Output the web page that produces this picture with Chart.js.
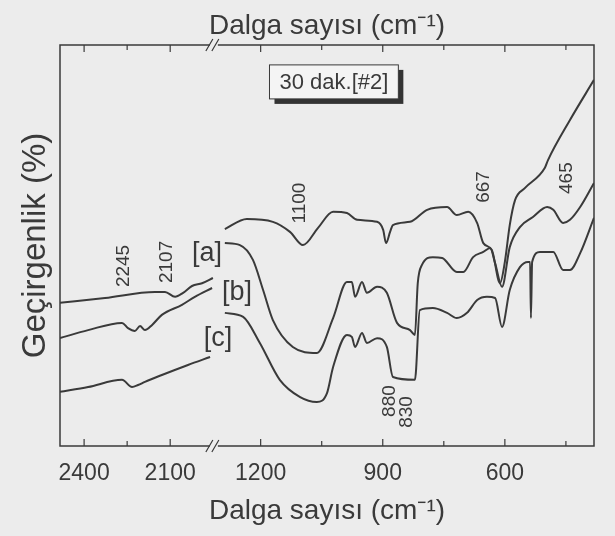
<!DOCTYPE html>
<html>
<head>
<meta charset="utf-8">
<script src="https://cdn.jsdelivr.net/npm/chart.js@4.4.1/dist/chart.umd.min.js"></script>
<style>
  html, body { margin: 0; padding: 0; background: #ececec; }
  #wrap { width: 615px; height: 536px; }
</style>
</head>
<body>
<div id="wrap"><canvas id="ir-chart" width="615" height="536"></canvas></div>
<script>
// wavenumber (cm-1) / transmittance readings, left piece and right piece of the broken axis
const waveLeftA = [2484, 2327, 2153, 2118, 2083, 2055, 2024, 1989, 1951];
const transLeftA = [35.7, 36.9, 38.4, 38.4, 37.2, 38.2, 39.9, 40.6, 41.9];
const waveRightA = [1288, 1234, 1170, 1128, 1096, 1059, 1022, 988, 963, 914, 899, 892, 882, 875, 833, 791, 742, 718, 690, 668, 653, 632, 612, 600, 588, 575, 551, 502, 494, 440, 381];
const transRightA = [54.1, 56.6, 55.9, 53.4, 50.1, 54.4, 58.4, 58.1, 56.4, 55.9, 53.9, 50.6, 53.4, 55.1, 55.9, 58.9, 59.6, 57.6, 58.4, 55.6, 50.6, 48.9, 40.6, 45.9, 55.1, 61.3, 64.3, 69.3, 71.3, 81.3, 91.3];

const waveLeftB = [2484, 2386, 2268, 2247, 2223, 2205, 2188, 2163, 2129, 2059, 2014, 1954];
const transLeftB = [26.9, 28.9, 30.7, 29.4, 28.7, 29.9, 28.9, 30.2, 32.7, 35.2, 37.2, 39.4];
const waveRightB = [1288, 1251, 1219, 1194, 1170, 1121, 1062, 1022, 988, 976, 968, 951, 939, 914, 890, 865, 833, 821, 814, 804, 777, 754, 718, 702, 678, 653, 636, 624, 607, 588, 563, 531, 496, 481, 457, 440, 415, 381];
const transRightB = [50.6, 50.1, 46.4, 38.9, 31.4, 24.7, 23.2, 31.9, 40.9, 40.9, 37.2, 40.9, 38.2, 39.7, 38.2, 30.7, 28.9, 27.7, 40.6, 45.1, 47.1, 46.9, 43.4, 43.4, 47.1, 48.4, 49.4, 45.6, 39.7, 49.6, 54.6, 57.1, 59.6, 58.9, 55.6, 56.4, 59.6, 65.6];

const waveLeftC = [2484, 2386, 2268, 2233, 2212, 2188, 2129, 2038, 1961];
const transLeftC = [13.5, 14.7, 16.5, 14.7, 15.2, 16.0, 17.7, 20.2, 22.2];
const waveRightC = [1288, 1243, 1202, 1153, 1103, 1062, 1037, 1022, 988, 976, 968, 951, 939, 914, 890, 875, 821, 809, 777, 742, 718, 693, 668, 644, 624, 607, 588, 563, 543, 538, 536, 533, 514, 481, 457, 440, 415, 381];
const transRightC = [33.2, 32.2, 25.7, 16.5, 12.2, 11.0, 13.2, 19.7, 27.7, 27.2, 24.7, 28.2, 25.7, 26.9, 24.7, 17.2, 16.5, 33.9, 34.4, 33.2, 31.9, 33.2, 36.4, 37.2, 36.9, 29.7, 38.9, 44.6, 45.9, 45.9, 31.9, 45.9, 48.4, 48.4, 43.9, 43.9, 48.1, 56.9];

const tickWn = [2400, 2250, 2100, 1200, 1050, 900, 750, 600, 450];
const tickLabels = ['2400', '', '2100', '1200', '', '900', '', '600', ''];

const peakLabels = ['2245', '2107', '1100', '667', '465', '880', '830'];
const peakWn = [2261, 2111, 1103, 653, 447, 882, 841];
const peakT = [44.9, 45.9, 60.6, 64.6, 66.8, 11.2, 8.5];

const sampleTags = ['[a]', '[b]', '[c]'];
const tagWn = [1972, 1258, 1305];
const tagT = [47.9, 38.2, 26.7];

const boxText = '30 dak.[#2]';
const boxWn = 1020, boxT = 90.8;

// broken axis: left piece 2484..1950 is squeezed, right piece 1313..381
const LEFT_START = 2484, LEFT_SCALE = 0.705, RIGHT_START = 1313, RIGHT_OFFSET = 380, BREAK_POS = 378;
function toAxis(wn) {
    return wn > 1600 ? (LEFT_START - wn) * LEFT_SCALE : RIGHT_OFFSET + (RIGHT_START - wn);
}
const AXIS_MAX = toAxis(381);

const INK = '#3a3a3a';
const BG = '#ececec';
const NARROW = "'Liberation Sans Narrow', 'Liberation Sans', Arial, sans-serif";

function points(wL, tL, wR, tR) {
    const left = wL.map((w, i) => ({x: toAxis(w), y: tL[i]}));
    const right = wR.map((w, i) => ({x: toAxis(w), y: tR[i]}));
    return left.concat([{x: BREAK_POS, y: null}], right);
}

function curve(label, data) {
    return {
        label: label,
        data: data,
        borderColor: INK,
        borderWidth: 2,
        pointRadius: 0,
        fill: false,
        spanGaps: false,
        cubicInterpolationMode: 'monotone'
    };
}

const decor = {
    id: 'decor',
    afterDatasetsDraw(chart) {
        const {ctx, chartArea: a, scales: {x, y}} = chart;
        ctx.save();
        ctx.strokeStyle = INK;
        ctx.lineWidth = 1.5;
        ctx.strokeRect(a.left, a.top, a.right - a.left, a.bottom - a.top);

        // inward tick marks, top and bottom
        ctx.lineWidth = 1.2;
        tickWn.forEach((w, i) => {
            const px = x.getPixelForValue(toAxis(w));
            const len = tickLabels[i] ? 7 : 5;
            ctx.beginPath();
            ctx.moveTo(px, a.bottom); ctx.lineTo(px, a.bottom - len);
            ctx.moveTo(px, a.top); ctx.lineTo(px, a.top + len);
            ctx.stroke();
        });

        // axis break marks
        const bx = x.getPixelForValue(BREAK_POS);
        [a.top, a.bottom].forEach(yy => {
            ctx.fillStyle = BG;
            ctx.fillRect(bx - 4, yy - 3, 8, 6);
            ctx.beginPath();
            ctx.moveTo(bx - 8, yy + 6); ctx.lineTo(bx - 1, yy - 6);
            ctx.moveTo(bx - 2, yy + 6); ctx.lineTo(bx + 5, yy - 6);
            ctx.stroke();
        });

        // peak labels, written upward
        ctx.fillStyle = INK;
        ctx.textAlign = 'center';
        ctx.textBaseline = 'middle';
        ctx.font = '19px ' + NARROW;
        peakLabels.forEach((t, i) => {
            ctx.save();
            ctx.translate(x.getPixelForValue(toAxis(peakWn[i])), y.getPixelForValue(peakT[i]));
            ctx.rotate(-Math.PI / 2);
            ctx.fillText(t, 0, 0);
            ctx.restore();
        });

        // sample tags
        ctx.font = '27px ' + NARROW;
        sampleTags.forEach((t, i) => {
            ctx.fillText(t, x.getPixelForValue(toAxis(tagWn[i])), y.getPixelForValue(tagT[i]));
        });

        // boxed caption with shadow
        ctx.font = '22px ' + NARROW;
        const cx = x.getPixelForValue(toAxis(boxWn));
        const cy = y.getPixelForValue(boxT);
        const w = ctx.measureText(boxText).width + 20;
        const h = 34;
        ctx.fillStyle = '#333';
        ctx.fillRect(cx - w / 2 + 5, cy - h / 2 + 5, w, h);
        ctx.fillStyle = '#f4f4f4';
        ctx.fillRect(cx - w / 2, cy - h / 2, w, h);
        ctx.lineWidth = 1;
        ctx.strokeRect(cx - w / 2, cy - h / 2, w, h);
        ctx.fillStyle = INK;
        ctx.fillText(boxText, cx, cy + 1);
        ctx.restore();
    }
};

const titleText = 'Dalga sayısı (cm⁻¹)';

new Chart(document.getElementById('ir-chart').getContext('2d'), {
    type: 'line',
    data: {
        datasets: [
            curve('[a]', points(waveLeftA, transLeftA, waveRightA, transRightA)),
            curve('[b]', points(waveLeftB, transLeftB, waveRightB, transRightB)),
            curve('[c]', points(waveLeftC, transLeftC, waveRightC, transRightC))
        ]
    },
    options: {
        responsive: false,
        animation: false,
        layout: {padding: {left: 0, right: 21, top: 0, bottom: 0}},
        plugins: {legend: {display: false}, tooltip: {enabled: false}},
        scales: {
            x: {
                type: 'linear',
                position: 'bottom',
                min: 0,
                max: AXIS_MAX,
                afterBuildTicks: s => { s.ticks = tickWn.map(w => ({value: toAxis(w)})); },
                afterFit: s => { s.height = 90; },
                ticks: {
                    autoSkip: false,
                    maxRotation: 0,
                    padding: 6,
                    color: INK,
                    font: {family: NARROW, size: 23},
                    callback: (v, i) => tickLabels[i]
                },
                grid: {display: false},
                border: {display: false},
                title: {display: true, text: titleText, color: INK, font: {family: NARROW, size: 28}, padding: {top: 0, bottom: 8}}
            },
            x2: {
                type: 'linear',
                position: 'top',
                min: 0,
                max: AXIS_MAX,
                afterFit: s => { s.height = 45; },
                ticks: {display: false},
                grid: {display: false},
                border: {display: false},
                title: {display: true, text: titleText, color: INK, font: {family: NARROW, size: 28}, padding: {top: 9, bottom: 0}}
            },
            y: {
                min: 0,
                max: 100,
                afterFit: s => { s.width = 60; },
                ticks: {display: false},
                grid: {display: false},
                border: {display: false},
                title: {display: true, text: 'Geçirgenlik (%)', color: INK, font: {family: NARROW, size: 33}, padding: {top: 16, bottom: 0}}
            }
        }
    },
    plugins: [decor]
});
</script>
</body>
</html>
